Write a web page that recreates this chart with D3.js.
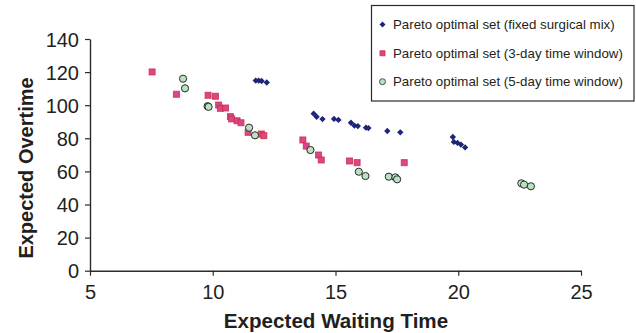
<!DOCTYPE html>
<html><head><meta charset="utf-8">
<script src="https://cdn.jsdelivr.net/npm/d3@7/dist/d3.min.js"></script>
<style>
html,body{margin:0;padding:0;background:#fff;}
svg{display:block;font-family:"Liberation Sans",Arial,sans-serif;}
</style></head>
<body>
<script>
// Data
const fixedMix = [
  [11.75,114.9],[11.87,114.9],[11.99,114.6],[12.20,113.7],
  [14.11,94.9],[14.23,93.0],[14.47,91.6],[14.94,91.7],[15.12,91.1],
  [15.63,89.4],[15.77,87.7],[15.91,87.4],[16.24,86.4],[16.34,86.2],
  [17.11,84.4],[17.64,83.6],[19.78,80.8],[19.82,77.8],[19.97,77.2],
  [20.11,76.2],[20.28,74.5]
];
const threeDay = [
  [7.53,120.1],[8.52,106.6],[9.81,106.0],[10.11,105.4],[10.24,100.1],
  [10.31,98.1],[10.52,98.3],[10.72,93.1],[10.77,91.7],[10.99,90.6],
  [11.15,89.4],[11.44,83.6],[11.98,82.6],[12.08,81.6],[13.67,79.0],
  [13.81,75.3],[14.31,69.9],[14.42,66.9],[15.57,66.3],[15.88,65.3],[17.80,65.3]
];
const fiveDay = [
  [8.79,116.0],[8.87,110.2],[9.79,99.4],[9.83,99.0],[11.48,86.4],
  [11.72,81.8],[13.98,72.9],[15.95,59.8],[16.22,57.2],[17.17,56.8],
  [17.44,56.4],[17.51,55.2],[22.57,52.8],[22.68,52.0],[22.96,51.0]
];
const xTicks = [5,10,15,20,25];
const yTicks = [0,20,40,60,80,100,120,140];
const seriesNames = [
  "Pareto optimal set (fixed surgical mix)",
  "Pareto optimal set (3-day time window)",
  "Pareto optimal set (5-day time window)"
];
const xTitle = "Expected Waiting Time";
const yTitle = "Expected Overtime";

const W = 636, H = 333;
const svg = d3.select("body").append("svg").attr("width", W).attr("height", H);

const x = d3.scaleLinear().domain([5,25]).range([90,581]);
const y = d3.scaleLinear().domain([0,140]).range([270.7,39]);

const axisColor = "#2b2b2b";
const gx = svg.append("g").attr("transform","translate(0,270.7)")
  .call(d3.axisBottom(x).tickValues(xTicks).tickSize(5).tickSizeOuter(0).tickPadding(6));
const gy = svg.append("g").attr("transform","translate(90,0)")
  .call(d3.axisLeft(y).tickValues(yTicks).tickSize(5).tickSizeOuter(0).tickPadding(6));
[gx,gy].forEach(g=>{
  g.select(".domain").attr("stroke",axisColor).attr("stroke-width",1.4);
  g.selectAll(".tick line").attr("stroke",axisColor).attr("stroke-width",1.2);
  g.selectAll(".tick text").attr("fill","#231f20").style("font-size","20px")
    .style("font-family","'Liberation Sans',Arial,sans-serif");
});
gx.selectAll(".tick text").attr("dy","0.85em");
gy.selectAll(".tick text").attr("dy","0.36em");

svg.append("text").attr("x",336).attr("y",328).attr("text-anchor","middle")
  .style("font-size","20.6px").style("font-weight","bold").attr("fill","#231f20").text(xTitle);
svg.append("text").attr("transform","translate(33,168) rotate(-90)").attr("text-anchor","middle")
  .style("font-size","20px").style("font-weight","bold").attr("fill","#231f20").text(yTitle);

const navy = "#1c2577";
const sqFill = "#d8478c", sqStroke = "#d22c3e";
const cFill = "#b9e2c3", cStroke = "#2a2a2a";

function drawDiamond(g, cx, cy, s){
  g.append("path").attr("d", d3.symbol().type(d3.symbolSquare).size(s*s)())
   .attr("transform",`translate(${cx},${cy}) rotate(45)`).attr("fill",navy);
}

const plot = svg.append("g");
// 3-day squares
plot.selectAll("rect.sq").data(threeDay).join("rect").attr("class","sq")
  .attr("x",d=>x(d[0])-3).attr("y",d=>y(d[1])-3).attr("width",6).attr("height",6)
  .attr("fill",sqFill).attr("stroke",sqStroke).attr("stroke-width",1).attr("stroke-opacity",0.8);
// 5-day circles
plot.selectAll("circle.c").data(fiveDay).join("circle").attr("class","c")
  .attr("cx",d=>x(d[0])).attr("cy",d=>y(d[1])).attr("r",3.6)
  .attr("fill",cFill).attr("stroke",cStroke).attr("stroke-width",1);
// fixed mix diamonds
plot.selectAll("path.dm").data(fixedMix).join("path").attr("class","dm")
  .attr("d", d3.symbol().type(d3.symbolSquare).size(20)())
  .attr("transform",d=>`translate(${x(d[0])},${y(d[1])}) rotate(45)`).attr("fill",navy);

// Legend
const lg = svg.append("g");
lg.append("rect").attr("x",371.5).attr("y",5.5).attr("width",262.5).attr("height",95.5)
  .attr("fill","#fff").attr("stroke","#2a2a2a").attr("stroke-width",1.2);
const ly = [24.5,53.3,81.7];
drawDiamond(lg, 382.5, ly[0], 4.2);
lg.append("rect").attr("x",380).attr("y",ly[1]-2.5).attr("width",5).attr("height",5)
  .attr("fill",sqFill).attr("stroke",sqStroke).attr("stroke-width",0.8);
lg.append("circle").attr("cx",382.5).attr("cy",ly[2]).attr("r",3)
  .attr("fill",cFill).attr("stroke",cStroke).attr("stroke-width",0.8);
seriesNames.forEach((n,i)=>{
  lg.append("text").attr("x",393).attr("y",ly[i]).attr("dy","0.36em")
    .style("font-size","13.3px").attr("fill","#231f20").text(n);
});
</script>
</body></html>
